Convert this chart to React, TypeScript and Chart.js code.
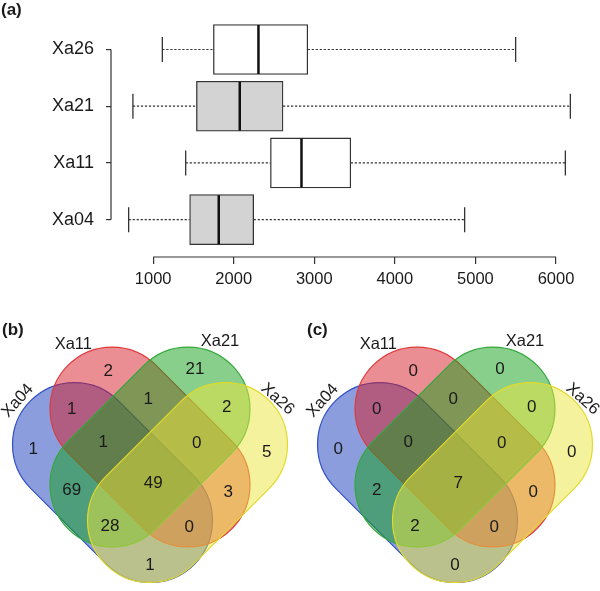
import React, { useEffect, useRef } from 'react';
import { Chart, registerables } from 'chart.js';

Chart.register(...registerables);

// ---------- data: panel (a) boxplot ----------
const categories = ['Xa26', 'Xa21', 'Xa11', 'Xa04'];
const whiskerLow = [1114, 749, 1404, 696];
const quartile1 = [1748, 1537, 2456, 1453];
const medians = [2307, 2075, 2841, 1814];
const quartile3 = [2919, 2612, 3453, 2248];
const whiskerHigh = [5499, 6178, 6116, 4866];
const xTickValues = [1000, 2000, 3000, 4000, 5000, 6000];

// ---------- data: panels (b) and (c) Venn ----------
const setNames = ['Xa04', 'Xa11', 'Xa21', 'Xa26'];
const regionKeys = ['A', 'B', 'C', 'D', 'AB', 'BC', 'CD', 'ABC', 'BCD', 'AC', 'ABCD', 'BD', 'ACD', 'ABD', 'AD'];
const countsB = [1, 2, 21, 5, 1, 1, 2, 1, 0, 69, 49, 3, 28, 0, 1];
const countsC = [0, 0, 0, 0, 0, 0, 0, 0, 0, 2, 7, 0, 2, 0, 0];

// ---------- styles / layout ----------
const FONT = '"Liberation Sans", Arial, Helvetica, sans-serif';
const INK = '#1a1a1a';
const AXIS = '#333333';
const boxFill = ['#ffffff', '#d3d3d3', '#ffffff', '#d3d3d3'];
const yPos = categories.map((_, i) => categories.length - i);

const VENN_H = 301;
const CAP_R = 62;
const HALF = 53.7;
const vennShapes = [
  { cx: 112.5, cy: 192.5, angle: Math.PI / 4, fill: 'rgba(25,60,190,0.5)', stroke: '#2f4fc4' },
  { cx: 150, cy: 157, angle: Math.PI / 4, fill: 'rgba(215,30,40,0.5)', stroke: '#dd3a3a' },
  { cx: 150, cy: 157, angle: -Math.PI / 4, fill: 'rgba(20,160,25,0.5)', stroke: '#33a83a' },
  { cx: 187.5, cy: 192.5, angle: -Math.PI / 4, fill: 'rgba(235,230,60,0.5)', stroke: '#e2da2a' },
];
const regionAnchors: Record<string, [number, number]> = {
  A: [33.3, 158.3], B: [108.3, 80], C: [195, 78.3], D: [266.7, 161.7],
  AB: [71.7, 118.3], BC: [148.3, 108.3], CD: [226.7, 116.7],
  ABC: [103.3, 151.7], BCD: [196.7, 152.7],
  AC: [71.7, 199.3], ABCD: [153.3, 192.7], BD: [228.3, 201.7],
  ACD: [110, 235], ABD: [189.3, 236.7], AD: [150, 274],
};
const setLabelAnchors: [number, number, number][] = [
  [17, 110, -48], [73.3, 53.3, 0], [220, 50, 0], [278.3, 108.3, 42],
];

const boxPlugin = {
  id: 'boxExtras',
  afterDatasetsDraw(chart: any) {
    const { ctx, scales, chartArea } = chart;
    const x = scales.x, y = scales.y;
    ctx.save();
    categories.forEach((_, i) => {
      const py = y.getPixelForValue(yPos[i]);
      ctx.strokeStyle = AXIS;
      ctx.lineWidth = 1.2;
      ctx.setLineDash([2.2, 1.8]);
      ctx.beginPath();
      ctx.moveTo(x.getPixelForValue(whiskerLow[i]), py);
      ctx.lineTo(x.getPixelForValue(quartile1[i]), py);
      ctx.moveTo(x.getPixelForValue(quartile3[i]), py);
      ctx.lineTo(x.getPixelForValue(whiskerHigh[i]), py);
      ctx.stroke();
      ctx.setLineDash([]);
      ctx.lineWidth = 1.3;
      ctx.beginPath();
      [whiskerLow[i], whiskerHigh[i]].forEach((v) => {
        const px = x.getPixelForValue(v);
        ctx.moveTo(px, py - 12.5);
        ctx.lineTo(px, py + 12.5);
      });
      ctx.stroke();
      ctx.strokeStyle = '#111';
      ctx.lineWidth = 2.5;
      ctx.beginPath();
      const pm = x.getPixelForValue(medians[i]);
      ctx.moveTo(pm, py - 24.5);
      ctx.lineTo(pm, py + 24.5);
      ctx.stroke();
    });
    ctx.strokeStyle = AXIS;
    ctx.lineWidth = 1.2;
    ctx.beginPath();
    ctx.moveTo(x.getPixelForValue(xTickValues[0]), chartArea.bottom);
    ctx.lineTo(x.getPixelForValue(xTickValues[xTickValues.length - 1]), chartArea.bottom);
    ctx.moveTo(chartArea.left, y.getPixelForValue(yPos[0]));
    ctx.lineTo(chartArea.left, y.getPixelForValue(yPos[yPos.length - 1]));
    ctx.stroke();
    ctx.fillStyle = INK;
    ctx.font = `bold 17px ${FONT}`;
    ctx.textAlign = 'left';
    ctx.textBaseline = 'middle';
    ctx.fillText('(a)', 1, 10);
    ctx.restore();
  },
};

const vennPlugin = {
  id: 'venn',
  beforeDatasetsDraw(chart: any) {
    const { ctx, scales } = chart;
    const x = scales.x, y = scales.y;
    const k = x.getPixelForValue(1) - x.getPixelForValue(0);
    ctx.save();
    vennShapes.forEach((s) => {
      const cx = x.getPixelForValue(s.cx), cy = y.getPixelForValue(s.cy);
      const h = HALF * k, r = CAP_R * k;
      ctx.save();
      ctx.translate(cx, cy);
      ctx.rotate(s.angle);
      ctx.beginPath();
      ctx.moveTo(-h, -r);
      ctx.lineTo(h, -r);
      ctx.arc(h, 0, r, -Math.PI / 2, Math.PI / 2);
      ctx.lineTo(-h, r);
      ctx.arc(-h, 0, r, Math.PI / 2, (3 * Math.PI) / 2);
      ctx.closePath();
      ctx.fillStyle = s.fill;
      ctx.fill();
      ctx.strokeStyle = s.stroke;
      ctx.lineWidth = 1.2;
      ctx.stroke();
      ctx.restore();
    });
    ctx.restore();
  },
  afterDatasetsDraw(chart: any, _args: any, opts: any) {
    const { ctx, scales } = chart;
    const x = scales.x, y = scales.y;
    const meta = chart.getDatasetMeta(0);
    ctx.save();
    ctx.fillStyle = INK;
    ctx.font = `17px ${FONT}`;
    ctx.textAlign = 'center';
    ctx.textBaseline = 'middle';
    meta.data.forEach((el: any, i: number) => {
      ctx.fillText(String(opts.counts[i]), el.x, el.y + 1);
    });
    ctx.font = `16.5px ${FONT}`;
    setNames.forEach((name, i) => {
      const [lx, ly, rot] = setLabelAnchors[i];
      ctx.save();
      ctx.translate(x.getPixelForValue(lx), y.getPixelForValue(ly));
      ctx.rotate((rot * Math.PI) / 180);
      ctx.fillText(name, 0, 1);
      ctx.restore();
    });
    ctx.font = `bold 17px ${FONT}`;
    ctx.textAlign = 'left';
    ctx.fillText(opts.tag, 2, 40);
    ctx.restore();
  },
};

function makeVenn(canvas: HTMLCanvasElement, width: number, counts: number[], tag: string) {
  return new Chart(canvas, {
    type: 'scatter',
    data: {
      datasets: [
        {
          data: regionKeys.map((key) => ({ x: regionAnchors[key][0], y: regionAnchors[key][1] })),
          pointRadius: 0,
          pointHoverRadius: 0,
        },
      ],
    },
    options: {
      responsive: false,
      animation: false,
      devicePixelRatio: 1,
      events: [],
      layout: { padding: 0 },
      scales: {
        x: { type: 'linear', display: false, min: 0, max: width },
        y: { type: 'linear', display: false, min: 0, max: VENN_H, reverse: true },
      },
      plugins: {
        legend: { display: false },
        tooltip: { enabled: false },
        venn: { counts, tag },
      } as any,
    },
    plugins: [vennPlugin as any],
  });
}

export default function App() {
  const boxRef = useRef<HTMLCanvasElement>(null);
  const vbRef = useRef<HTMLCanvasElement>(null);
  const vcRef = useRef<HTMLCanvasElement>(null);

  useEffect(() => {
    const charts: Chart[] = [];
    if (boxRef.current) {
      charts.push(
        new Chart(boxRef.current, {
          type: 'bar',
          data: {
            datasets: [
              {
                data: categories.map((_, i) => ({ y: yPos[i], x: [quartile1[i], quartile3[i]] })) as any,
                backgroundColor: boxFill,
                borderColor: AXIS,
                borderWidth: 1.3,
                borderSkipped: false,
                barThickness: 50,
              },
            ],
          },
          options: {
            indexAxis: 'y',
            responsive: false,
            animation: false,
            devicePixelRatio: 1,
            events: [],
            layout: { padding: { left: 0, right: 12, top: 0, bottom: 0 } },
            scales: {
              x: {
                type: 'linear',
                min: 477,
                max: 6397,
                offset: false,
                afterFit: (s: any) => { s.height = 35; },
                afterBuildTicks: (s: any) => { s.ticks = xTickValues.map((v) => ({ value: v })); },
                border: { display: false },
                grid: { drawOnChartArea: false, drawTicks: true, tickLength: 7, color: AXIS, lineWidth: 1.2, offset: false },
                ticks: {
                  color: INK,
                  font: { family: FONT, size: 16.5 },
                  padding: 6,
                  maxRotation: 0,
                  autoSkip: false,
                  callback: (v: any) => String(v),
                },
              },
              y: {
                type: 'linear',
                min: 0.341,
                max: 4.471,
                offset: false,
                afterFit: (s: any) => { s.width = 111; },
                afterBuildTicks: (s: any) => { s.ticks = yPos.map((v) => ({ value: v })); },
                border: { display: false },
                grid: { drawOnChartArea: false, drawTicks: true, tickLength: 5, color: AXIS, lineWidth: 1.2, offset: false },
                ticks: {
                  color: INK,
                  font: { family: FONT, size: 18 },
                  padding: 12,
                  autoSkip: false,
                  callback: (v: any) => categories[categories.length - Number(v)],
                },
              },
            },
            plugins: { legend: { display: false }, tooltip: { enabled: false } },
          },
          plugins: [boxPlugin as any],
        }),
      );
    }
    if (vbRef.current) charts.push(makeVenn(vbRef.current, 300, countsB, '(b)'));
    if (vcRef.current) charts.push(makeVenn(vcRef.current, 295, countsC, '(c)'));
    return () => charts.forEach((c) => c.destroy());
  }, []);

  return (
    <div style={{ position: 'absolute', left: 0, top: 0, width: 600, height: 591, background: '#ffffff', overflow: 'hidden' }}>
      <canvas ref={boxRef} width={600} height={292} style={{ position: 'absolute', left: 0, top: 0, width: 600, height: 292 }} />
      <canvas ref={vbRef} width={300} height={301} style={{ position: 'absolute', left: 0, top: 290, width: 300, height: 301 }} />
      <canvas ref={vcRef} width={295} height={301} style={{ position: 'absolute', left: 305, top: 290, width: 295, height: 301 }} />
    </div>
  );
}
